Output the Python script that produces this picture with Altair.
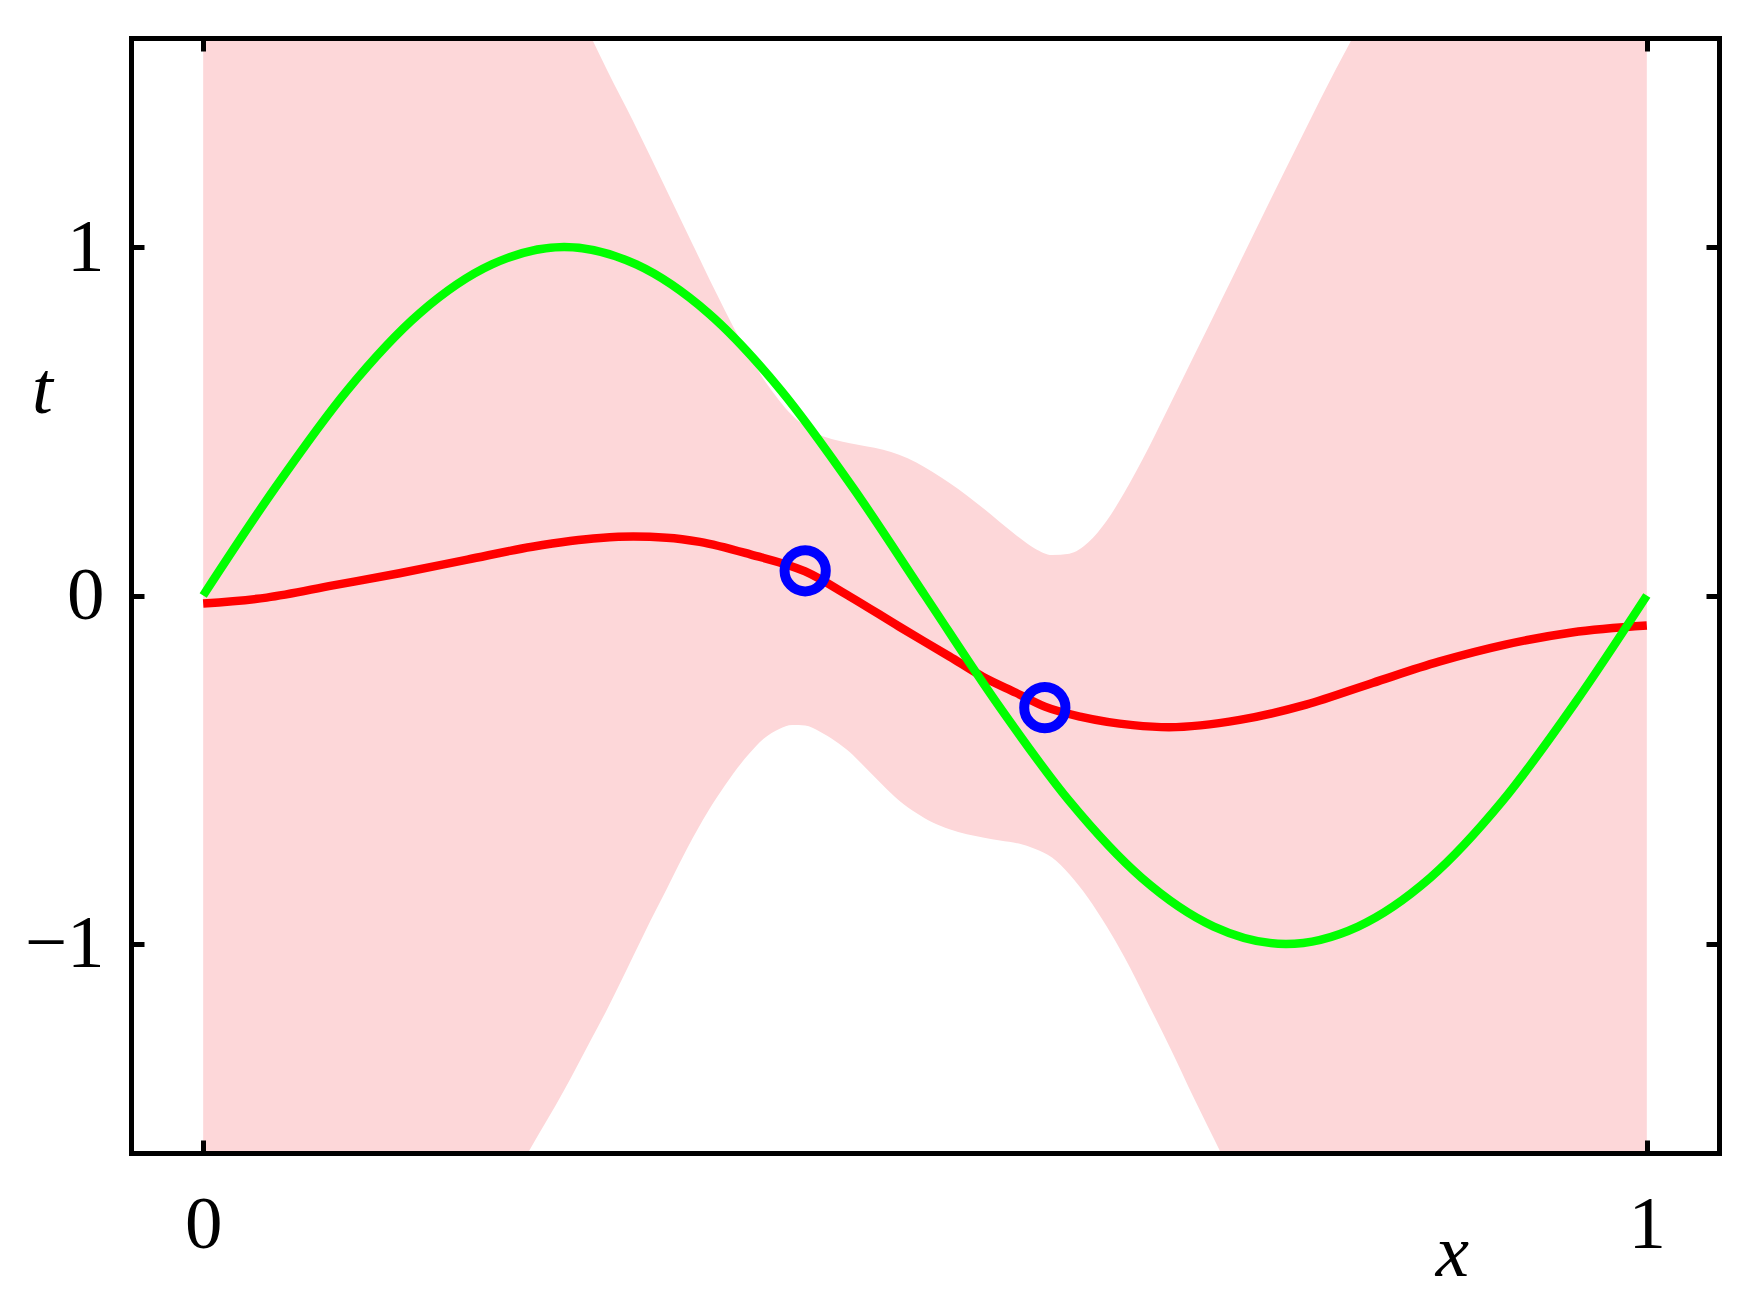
import altair as alt
import pandas as pd

# ---- data ----
band_x = [0.0, 0.2, 0.226, 0.25, 0.269, 0.28, 0.298, 0.31, 0.321, 0.332, 0.339, 0.346,
          0.356, 0.367, 0.378, 0.388, 0.399, 0.408, 0.417, 0.427, 0.438, 0.448, 0.459,
          0.471, 0.482, 0.494, 0.505, 0.517, 0.529, 0.541, 0.552, 0.565, 0.576, 0.588,
          0.6, 0.613, 0.626, 0.638, 0.655, 0.67, 0.686, 0.705, 0.72, 0.739, 0.759, 0.774,
          0.80, 0.817, 0.85, 1.0]
band_upper = [3.5, 2.19, 1.97, 1.76, 1.6, 1.506, 1.36, 1.258, 1.163, 1.068, 1.008, 0.948,
              0.863, 0.773, 0.69, 0.622, 0.56, 0.517, 0.485, 0.461, 0.446, 0.437, 0.428,
              0.418, 0.404, 0.382, 0.355, 0.323, 0.287, 0.248, 0.21, 0.167, 0.135, 0.116,
              0.12, 0.152, 0.215, 0.295, 0.425, 0.55, 0.685, 0.845, 0.972, 1.133, 1.30, 1.425,
              1.63, 1.76, 2.0, 3.0]
band_lower = [-3.2, -1.78, -1.592, -1.42, -1.272, -1.186, -1.034, -0.932, -0.843, -0.752,
              -0.697, -0.645, -0.578, -0.512, -0.455, -0.412, -0.383, -0.372, -0.373, -0.39,
              -0.418, -0.45, -0.495, -0.545, -0.588, -0.624, -0.651, -0.671, -0.685, -0.695,
              -0.703, -0.712, -0.727, -0.752, -0.80, -0.868, -0.951, -1.037, -1.175, -1.30,
              -1.44, -1.60, -1.73, -1.89, -2.05, -2.17, -2.37, -2.5, -2.75, -4.0]

mean_x = [0.0, 0.044, 0.09, 0.136, 0.183, 0.228, 0.275, 0.298, 0.321, 0.344, 0.379, 0.417,
          0.448, 0.482, 0.517, 0.54, 0.563, 0.583, 0.609, 0.644, 0.669, 0.718, 0.764, 0.81,
          0.856, 0.902, 0.948, 1.0]
mean_y = [-0.023, -0.006, 0.029, 0.064, 0.103, 0.14, 0.165, 0.169, 0.166, 0.154, 0.118,
          0.069, -0.003, -0.089, -0.175, -0.233, -0.279, -0.319, -0.349, -0.372, -0.378,
          -0.357, -0.313, -0.251, -0.19, -0.141, -0.106, -0.086]

truth_x = [0.0, 0.05, 0.1, 0.15, 0.2, 0.25, 0.3, 0.35, 0.4, 0.45, 0.5, 0.55, 0.6, 0.65,
           0.7, 0.75, 0.8, 0.85, 0.9, 0.95, 1.0]
truth_y = [0.0, 0.31, 0.59, 0.81, 0.95, 1.0, 0.95, 0.81, 0.59, 0.31, 0.0, -0.31, -0.59,
           -0.81, -0.95, -1.0, -0.95, -0.81, -0.59, -0.31, 0.0]

obs_x = [0.417, 0.583]
obs_y = [0.071, -0.322]

x_ticks = [0, 1]
y_ticks = [-1, 0, 1]

band_df = pd.DataFrame({"x": band_x, "lo": band_lower, "hi": band_upper})
mean_df = pd.DataFrame({"x": mean_x, "y": mean_y})
truth_df = pd.DataFrame({"x": truth_x, "y": truth_y})
obs_df = pd.DataFrame({"x": obs_x, "y": obs_y})

FONT = "Liberation Serif"
FS = 75
LW = 5
TICK = 13

xs = alt.Scale(domain=[-0.05, 1.05], nice=False, zero=False)
ys = alt.Scale(domain=[-1.6, 1.6], nice=False, zero=False)

common = dict(grid=False, zindex=2)

x_main = alt.Axis(orient="bottom", values=x_ticks, format="d", offset=-TICK, tickSize=TICK,
                  tickWidth=LW, tickColor="black", domain=False, labelFont=FONT,
                  labelFontSize=FS, labelColor="black", labelPadding=35, labelFlush=False,
                  labelOverlap=False, title="x", titleFont=FONT, titleFontSize=FS,
                  titleFontStyle="italic", titleFontWeight="normal", titleColor="black",
                  titleAngle=0, titleAlign="center", titleBaseline="alphabetic",
                  titleX=1321, titleY=135, **common)
y_main = alt.Axis(orient="left", values=y_ticks, format="d", offset=-TICK, tickSize=TICK,
                  tickWidth=LW, tickColor="black", domain=False, labelFont=FONT,
                  labelFontSize=FS, labelColor="black", labelPadding=27, labelFlush=False,
                  labelOverlap=False, title="t", titleFont=FONT, titleFontSize=FS,
                  titleFontStyle="italic", titleFontWeight="normal", titleColor="black",
                  titleAngle=0, titleAlign="center", titleBaseline="alphabetic",
                  titleX=-102, titleY=374, **common)
x_top = alt.Axis(orient="top", values=x_ticks, offset=-TICK, tickSize=TICK, tickWidth=LW,
                 tickColor="black", domain=False, labels=False, title=None, **common)
y_right = alt.Axis(orient="right", values=y_ticks, offset=-TICK, tickSize=TICK, tickWidth=LW,
                   tickColor="black", domain=False, labels=False, title=None, **common)
dom = dict(ticks=False, labels=False, title=None, domain=True, domainWidth=LW,
           domainColor="black", domainCap="square", **common)
x_dom_b = alt.Axis(orient="bottom", **dom)
y_dom_l = alt.Axis(orient="left", **dom)
x_dom_t = alt.Axis(orient="top", **dom)
y_dom_r = alt.Axis(orient="right", **dom)

band = alt.Chart(band_df).mark_area(color="#FDD7D9", opacity=1, clip=True,
                                    interpolate="monotone").encode(
    x=alt.X("x:Q", scale=xs, axis=x_main),
    y=alt.Y("lo:Q", scale=ys, axis=y_main),
    y2="hi:Q",
)
mean = alt.Chart(mean_df).mark_line(color="#FF0000", strokeWidth=8.5, interpolate="monotone",
                                    clip=True).encode(
    x=alt.X("x:Q", scale=xs, axis=x_top),
    y=alt.Y("y:Q", scale=ys, axis=y_right),
)
truth = alt.Chart(truth_df).mark_line(color="#00FF00", strokeWidth=8.5, interpolate="monotone",
                                      clip=True).encode(
    x=alt.X("x:Q", scale=xs, axis=x_dom_b),
    y=alt.Y("y:Q", scale=ys, axis=y_dom_l),
)
obs = alt.Chart(obs_df).mark_point(shape="circle", filled=False, size=1700, strokeWidth=10,
                                   color="#0000FF", opacity=1).encode(
    x=alt.X("x:Q", scale=xs, axis=x_dom_t),
    y=alt.Y("y:Q", scale=ys, axis=y_dom_r),
)

chart = alt.layer(band, mean, truth, obs).resolve_axis(
    x="independent", y="independent"
).properties(
    width=1588, height=1115,
    autosize=alt.AutoSizeParams(type="none"),
    padding={"left": 123, "top": 30, "right": 20, "bottom": 140},
    background="white",
).configure_view(stroke=None)

chart.save("out.html", embed_options={"renderer": "svg", "actions": False})
